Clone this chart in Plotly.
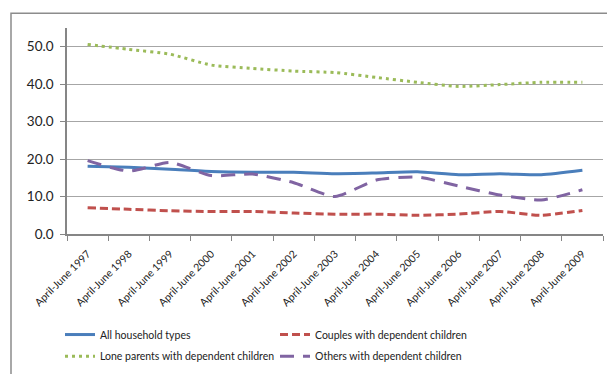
import plotly.graph_objects as go

years = ["April-June 1997", "April-June 1998", "April-June 1999", "April-June 2000",
         "April-June 2001", "April-June 2002", "April-June 2003", "April-June 2004",
         "April-June 2005", "April-June 2006", "April-June 2007", "April-June 2008",
         "April-June 2009"]

all_households = [18.1, 17.8, 17.3, 16.7, 16.5, 16.5, 16.1, 16.3, 16.6, 15.8, 16.1, 15.8, 17.0]
couples = [7.0, 6.6, 6.2, 6.0, 6.0, 5.6, 5.3, 5.3, 5.0, 5.3, 6.0, 5.0, 6.3]
lone_parents = [50.6, 49.3, 48.0, 45.1, 44.2, 43.5, 43.1, 41.8, 40.5, 39.4, 39.9, 40.5, 40.5]
others = [19.6, 16.8, 19.1, 15.6, 16.0, 13.7, 10.0, 14.4, 15.2, 12.8, 10.4, 9.1, 11.8]

W, H = 607, 374
L, R, T, B = 67, 4, 28, 137
pw, ph = W - L - R, H - T - B

def px_x(p):
    return (p - L) / pw

def px_y(p):
    return (H - B - p) / ph

fig = go.Figure()
fig.add_trace(go.Scatter(x=years, y=all_households, name="All household types", mode="lines",
                         legend="legend",
                         line=dict(color="#4A7EBB", width=3, shape="spline", smoothing=0.6)))
fig.add_trace(go.Scatter(x=years, y=couples, name="Couples with dependent children", mode="lines",
                         legend="legend2",
                         line=dict(color="#C0504D", width=3, dash="8px,4px", shape="spline", smoothing=0.6)))
fig.add_trace(go.Scatter(x=years, y=lone_parents, name="Lone parents with dependent children", mode="lines",
                         legend="legend3",
                         line=dict(color="#9BBB59", width=3, dash="3px,4px", shape="spline", smoothing=0.6)))
fig.add_trace(go.Scatter(x=years, y=others, name="Others with dependent children", mode="lines",
                         legend="legend4",
                         line=dict(color="#8064A2", width=3, dash="14px,9px", shape="spline", smoothing=0.6)))

leg_common = dict(orientation="h", xanchor="left", yanchor="middle",
                  font=dict(size=10.5, color="#222222"), bgcolor="rgba(0,0,0,0)")

fig.update_layout(
    width=W, height=H,
    margin=dict(l=L, r=R, t=T, b=B),
    paper_bgcolor="white", plot_bgcolor="white",
    font=dict(family="Lato, Open Sans, sans-serif", color="#222222"),
    showlegend=True,
    legend=dict(leg_common, x=px_x(60), y=px_y(339)),
    legend2=dict(leg_common, x=px_x(275), y=px_y(339)),
    legend3=dict(leg_common, x=px_x(60), y=px_y(361)),
    legend4=dict(leg_common, x=px_x(275), y=px_y(361)),
    shapes=[dict(type="rect", xref="paper", yref="paper",
                 x0=px_x(11), x1=px_x(620), y0=px_y(390), y1=px_y(13),
                 line=dict(color="#8C8C8C", width=1.5), fillcolor="rgba(0,0,0,0)", layer="below")],
)

fig.update_xaxes(type="category", range=[-0.5, 12.5], showgrid=False, automargin=False,
                 showline=True, linecolor="#868686", linewidth=1.5,
                 ticks="outside", ticklen=5, tickcolor="#868686", tickson="boundaries",
                 tickangle=-45, ticklabelstandoff=8, tickfont=dict(size=10.5, color="#222222"))
fig.update_yaxes(range=[0, 55], dtick=10, tick0=0, tickformat=".1f", automargin=False,
                 showgrid=True, gridcolor="#A6A6A6", gridwidth=1.2,
                 showline=True, linecolor="#868686", linewidth=1.5,
                 ticks="outside", ticklen=5, tickcolor="#868686", ticklabelstandoff=4,
                 tickfont=dict(size=13.5, color="#222222"), zeroline=False)

fig.write_html("out.html")
